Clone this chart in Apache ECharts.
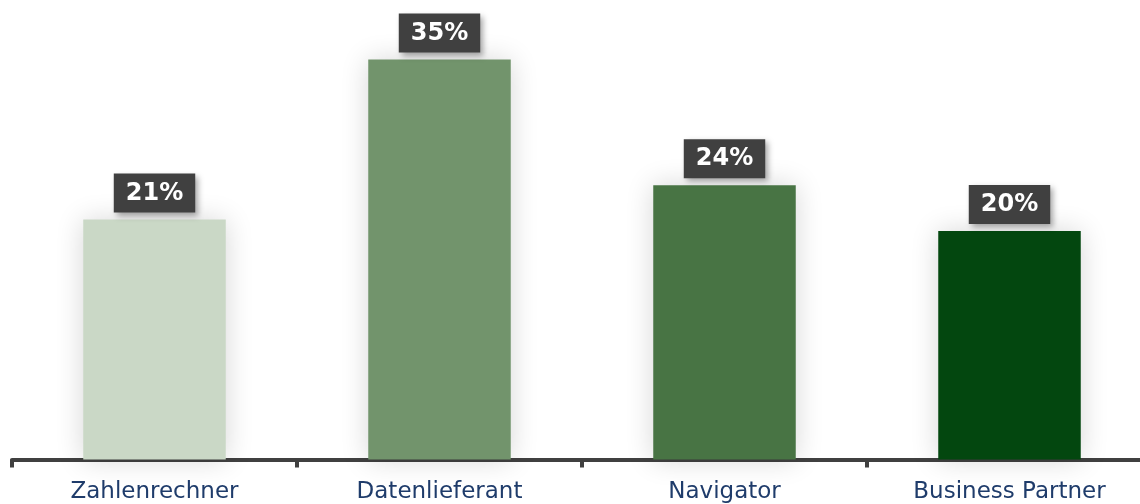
<!DOCTYPE html>
<html>
<head>
<meta charset="utf-8">
<script src="https://cdn.jsdelivr.net/npm/echarts@6/dist/echarts.min.js"></script>
<style>
  html, body { margin: 0; padding: 0; background: #ffffff; }
  #chart { width: 1140px; height: 504px; }
</style>
</head>
<body>
<div id="chart"></div>
<script>
// Product categories and their shares (percent)
const categories = ['Zahlenrechner', 'Datenlieferant', 'Navigator', 'Business Partner'];
const shares = [21, 35, 24, 20];
const barColors = ['#cad8c6', '#72946c', '#487444', '#03470f'];

const chart = echarts.init(document.getElementById('chart'), null, { renderer: 'canvas' });

chart.setOption({
  animation: false,
  backgroundColor: '#ffffff',
  // the category band runs slightly past the right edge of the canvas
  grid: {
    left: 12, width: 1140, top: 59.5, bottom: 44.5,
    containLabel: false,
    outerBoundsMode: 'none'
  },
  xAxis: {
    type: 'category',
    data: categories,
    axisLine: { show: true, lineStyle: { color: '#404040', width: 4 } },
    axisTick: { show: true, length: 8, lineStyle: { color: '#404040', width: 4 } },
    axisLabel: {
      color: '#1f3c6b',
      fontFamily: 'DejaVu Sans',
      fontSize: 23,
      margin: 21
    }
  },
  yAxis: {
    type: 'value',
    min: 0,
    max: 35,
    show: false,
    splitLine: { show: false }
  },
  series: [{
    type: 'bar',
    barWidth: '50%',
    data: shares.map((v, i) => ({
      value: v,
      itemStyle: {
        color: barColors[i],
        shadowColor: 'rgba(0,0,0,0.16)',
        shadowBlur: 26,
        shadowOffsetX: 0,
        shadowOffsetY: 0
      }
    })),
    label: {
      show: true,
      position: 'top',
      distance: 7,
      formatter: '{c}%',
      color: '#ffffff',
      fontFamily: 'DejaVu Sans',
      fontWeight: 'bold',
      fontSize: 24,
      backgroundColor: '#404040',
      padding: [8, 12, 7, 12],
      shadowColor: 'rgba(0,0,0,0.35)',
      shadowBlur: 6,
      shadowOffsetX: 3,
      shadowOffsetY: 3
    }
  }]
});
</script>
</body>
</html>
